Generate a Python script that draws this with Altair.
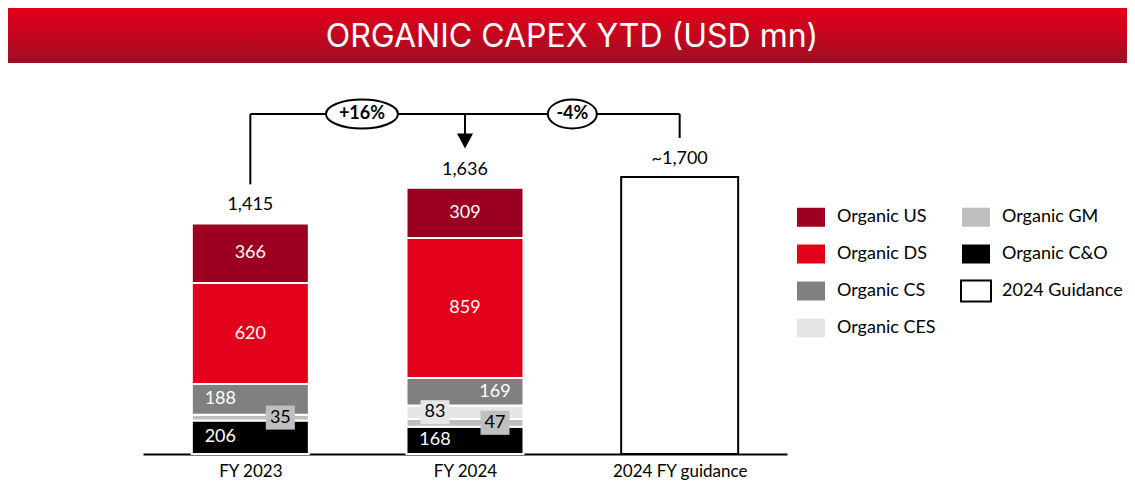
import altair as alt
import pandas as pd

# ---------------- data ----------------
categories = ["FY 2023", "FY 2024", "2024 FY guidance"]
series = ["Organic C&O", "Organic GM", "Organic CES", "Organic CS", "Organic DS", "Organic US"]  # bottom -> top
fy2023 = [206, 35, 0, 188, 620, 366]
fy2024 = [168, 47, 83, 169, 859, 309]
guidance_value = 1700
guidance_name = "2024 Guidance"
total_labels = ["1,415", "1,636", "~1,700"]
change_labels = ["+16%", "-4%"]
title_text = "ORGANIC CAPEX YTD (USD mn)"

legend_order = ["Organic US", "Organic DS", "Organic CS", "Organic CES",
                "Organic GM", "Organic C&O", "2024 Guidance"]
fill_colors = ["#9B0020", "#E2001A", "#808080", "#E6E6E6", "#BFBFBF", "#000000", "#FFFFFF"]
stroke_colors = ["#FFFFFF", "#FFFFFF", "#FFFFFF", "#FFFFFF", "#FFFFFF", "#FFFFFF", "#000000"]

# ---------------- styling / layout constants ----------------
FONT = "Lato"
HALF = 0.2725            # half bar width in x-units (1 unit = one category slot)
GAP = 240                # gap (value units) between total and bracket leg
BRACKET_Y = 2087
BADGE_X = [1.02, 2.0]
LABEL_DX = 30
placement = {
    ("FY 2023", "Organic CS"): "left", ("FY 2023", "Organic C&O"): "left",
    ("FY 2023", "Organic GM"): "right",
    ("FY 2024", "Organic CS"): "right", ("FY 2024", "Organic CES"): "left",
    ("FY 2024", "Organic GM"): "right", ("FY 2024", "Organic C&O"): "left",
}
boxed = ["Organic GM", "Organic CES"]

# ---------------- tables ----------------
rows = []
for ci, vals in enumerate([fy2023, fy2024]):
    base = 0
    for s, v in zip(series, vals):
        pos = ci + 0.5
        rows.append(dict(cat=categories[ci], series=s, x0=pos - HALF, x1=pos + HALF, pos=pos,
                         y0=base, y1=base + v, mid=base + v / 2, value=v, label=str(v),
                         place=placement.get((categories[ci], s), "center")))
        base += v
rows.append(dict(cat=categories[2], series=guidance_name, x0=2.5 - HALF, x1=2.5 + HALF, pos=2.5,
                 y0=0, y1=guidance_value, mid=guidance_value / 2, value=guidance_value, label="",
                 place="none"))
seg = pd.DataFrame(rows)
labels_df = seg[(seg["value"] > 0) & (seg["place"] != "none")]

totals = [sum(fy2023), sum(fy2024), guidance_value]
tot_df = pd.DataFrame(dict(pos=[0.5, 1.5, 2.5], total=totals, label=total_labels))

lines_df = pd.DataFrame(dict(
    x=[0.5, 0.5, 1.5, 2.5],
    x2=[2.5, 0.5, 1.5, 2.5],
    y=[BRACKET_Y, totals[0] + GAP, totals[1] + GAP + 46, totals[2] + GAP],
    y2=[BRACKET_Y, BRACKET_Y, BRACKET_Y, BRACKET_Y],
))
arrow_df = pd.DataFrame(dict(x=[1.5], y=[totals[1] + GAP + 46]))
badge_df = pd.DataFrame(dict(x=BADGE_X, y=[BRACKET_Y, BRACKET_Y], label=change_labels))

# ---------------- scales / helpers ----------------
xscale = alt.Scale(domain=[0, 3], nice=False, zero=False)
yscale = alt.Scale(domain=[0, 2400], nice=False, zero=True)
label_expr = ("datum.value < 1 ? '%s' : datum.value < 2 ? '%s' : '%s'" % tuple(categories))
xaxis = alt.Axis(values=[0.5, 1.5, 2.5], labelExpr=label_expr, ticks=False, grid=False,
                 domainColor="black", domainWidth=2, labelFont=FONT, labelFontSize=17,
                 labelColor="black", labelPadding=9, title=None)


def X(f):
    return alt.X(f, type="quantitative", scale=xscale, axis=xaxis, title=None)


def Y(f):
    return alt.Y(f, type="quantitative", scale=yscale, axis=None, title=None)


legend_shape = "M-1,-0.7 L1,-0.7 L1,0.7 L-1,0.7 Z"
leg = dict(title=None, orient="none", legendX=652, legendY=138, columns=2, columnPadding=21,
           rowPadding=6, symbolType=legend_shape, symbolSize=900, symbolStrokeWidth=2,
           labelFont=FONT, labelFontSize=18, labelColor="black", labelOffset=10,
           values=legend_order, padding=0, labelLimit=300)

fill_enc = alt.Fill("series:N", scale=alt.Scale(domain=legend_order, range=fill_colors),
                    legend=alt.Legend(**leg))
stroke_enc = alt.Stroke("series:N", scale=alt.Scale(domain=legend_order, range=stroke_colors),
                        legend=alt.Legend(**leg))

bars = alt.Chart(seg).mark_bar(strokeWidth=2).encode(
    x=X("x0"), x2="x1", y=Y("y0"), y2="y1", fill=fill_enc, stroke=stroke_enc)

box_shape = "M-1,-0.83 L1,-0.83 L1,0.83 L-1,0.83 Z"
box_layers = []
for side, off in [("left", -LABEL_DX), ("right", LABEL_DX)]:
    d = labels_df[(labels_df["place"] == side) & (labels_df["series"].isin(boxed))]
    box_layers.append(alt.Chart(d).mark_point(shape=box_shape, size=841, filled=True, opacity=1,
                                               strokeWidth=0, xOffset=off).encode(
        x=X("pos"), y=Y("mid"),
        fill=alt.Fill("series:N", scale=alt.Scale(domain=legend_order, range=fill_colors), legend=None)))

color_cond = alt.condition(alt.FieldOneOfPredicate(field="series", oneOf=boxed),
                           alt.value("black"), alt.value("white"))
text_layers = []
for side, off in [("center", 0), ("left", -LABEL_DX), ("right", LABEL_DX)]:
    d = labels_df[labels_df["place"] == side]
    text_layers.append(alt.Chart(d).mark_text(font=FONT, fontSize=18, dx=off, baseline="middle").encode(
        x=X("pos"), y=Y("mid"), text="label:N", color=color_cond))

totals_text = alt.Chart(tot_df).mark_text(font=FONT, fontSize=18, dy=-18, color="black",
                                          baseline="middle").encode(
    x=X("pos"), y=Y("total"), text="label:N")

bracket = alt.Chart(lines_df).mark_rule(strokeWidth=2, color="black").encode(
    x=X("x"), x2="x2", y=Y("y"), y2="y2")

arrow = alt.Chart(arrow_df).mark_point(shape="M-1,-0.94 L1,-0.94 L0,0.94 Z", size=256, filled=True,
                                       color="black", opacity=1).encode(x=X("x"), y=Y("y"))


def ellipse(r):
    k = 0.5523
    return ("M-1,0 C-1,{a} {b},{c} 0,{c} C{d},{c} 1,{a} 1,0 C1,{e} {d},{f} 0,{f} C{b},{f} -1,{e} -1,0 Z"
            .format(a=-r * k, b=-k, c=-r, d=k, e=r * k, f=r))


badge_layers = []
for i, (w, h) in enumerate([(72, 29), (49, 29)]):
    d = badge_df.iloc[[i]]
    badge_layers.append(alt.Chart(d).mark_point(shape=ellipse(h / w), size=w * w, filled=True,
                                                fill="white", stroke="black", strokeWidth=2,
                                                opacity=1).encode(x=X("x"), y=Y("y")))
    badge_layers.append(alt.Chart(d).mark_text(font=FONT, fontSize=18, fontWeight="bold",
                                               color="black", baseline="middle").encode(
        x=X("x"), y=Y("y"), text="label:N"))

title_df = pd.DataFrame(dict(t=[title_text]))
banner = alt.Chart(title_df).mark_rect(
    fill=alt.Gradient(gradient="linear", x1=0, x2=0, y1=0, y2=1,
                      stops=[alt.GradientStop(offset=0, color="#E2001A"),
                             alt.GradientStop(offset=0.5, color="#C4061E"),
                             alt.GradientStop(offset=1, color="#9C0F24")])
).encode(x=alt.value(-135), x2=alt.value(984), y=alt.value(-55), y2=alt.value(0))
banner_text = alt.Chart(title_df).mark_text(font="Inter", fontSize=32, color="white",
                                            baseline="middle", align="center").encode(
    x=alt.value(429), y=alt.value(-26), text="t:N")

chart = alt.layer(
    bars, *box_layers, *text_layers, totals_text, bracket, arrow, *badge_layers, banner, banner_text
).properties(
    width=644, height=391,
    padding={"left": 135, "top": 55, "right": 340, "bottom": 26},
    autosize=alt.AutoSizeParams(type="none"),
    background="white",
).configure_view(stroke=None)

chart.save("out.html", embed_options={"renderer": "svg", "actions": False})
